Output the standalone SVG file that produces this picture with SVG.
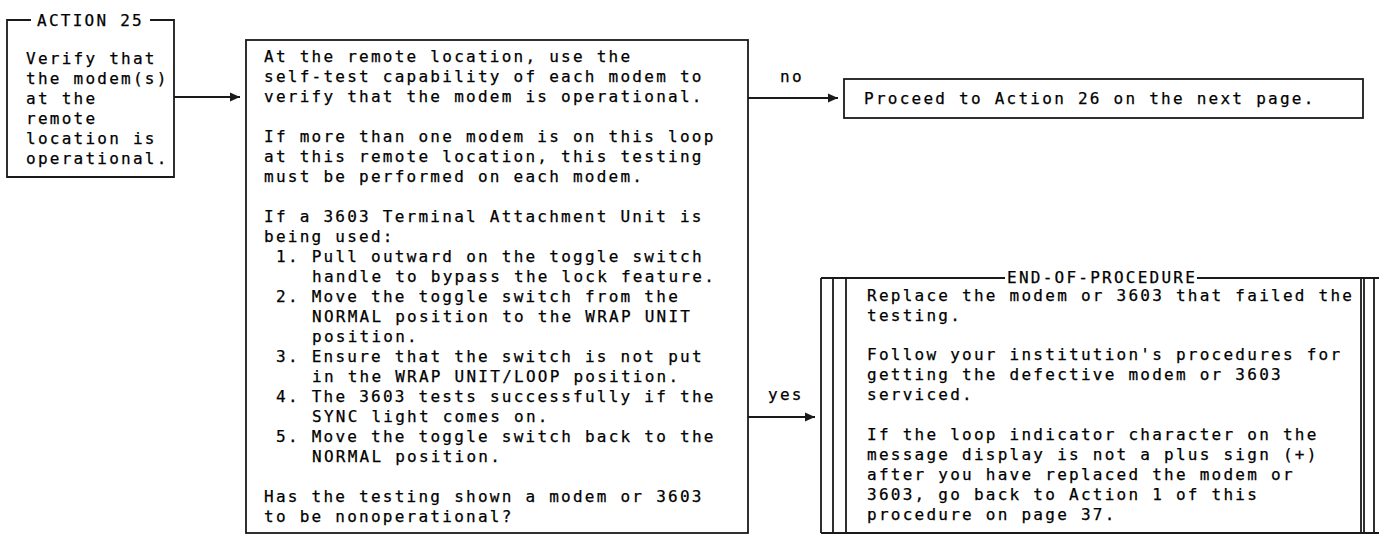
<svg xmlns="http://www.w3.org/2000/svg" width="1379" height="535" viewBox="0 0 1379 535">
<style>
.t{font-family:"DejaVu Sans Mono","Liberation Mono",monospace;font-size:16px;letter-spacing:2.25px;fill:#000;stroke:#000;stroke-width:0.25}
.b{fill:none;stroke:#1a1a1a;stroke-width:1.8}
.c{fill:none;stroke:#1a1a1a;stroke-width:1.8}
</style>
<defs>
<marker id="ah" markerWidth="10" markerHeight="10" refX="10" refY="5" orient="auto" markerUnits="userSpaceOnUse"><path d="M0,0.5 L10,5 L0,9.5 z" fill="#1a1a1a"/></marker>
</defs>
<rect width="1379" height="535" fill="#fff"/>

<g id="action25">
<path class="b" d="M31,20 H7 V177 H174 V20 H150"/>
<text class="t" x="37" y="26">ACTION 25</text>
<text class="t" x="26" y="64">Verify that</text>
<text class="t" x="26" y="84">the modem(s)</text>
<text class="t" x="26" y="104">at the</text>
<text class="t" x="26" y="124">remote</text>
<text class="t" x="26" y="144">location is</text>
<text class="t" x="26" y="164">operational.</text>
</g>

<g id="check">
<rect class="b" x="246" y="40" width="502" height="493"/>
<text class="t" x="264" y="62">At the remote location, use the</text>
<text class="t" x="264" y="82">self-test capability of each modem to</text>
<text class="t" x="264" y="102">verify that the modem is operational.</text>
<text class="t" x="264" y="142">If more than one modem is on this loop</text>
<text class="t" x="264" y="162">at this remote location, this testing</text>
<text class="t" x="264" y="182">must be performed on each modem.</text>
<text class="t" x="264" y="222">If a 3603 Terminal Attachment Unit is</text>
<text class="t" x="264" y="242">being used:</text>
<text class="t" x="276" y="262">1. Pull outward on the toggle switch</text>
<text class="t" x="312" y="282">handle to bypass the lock feature.</text>
<text class="t" x="276" y="302">2. Move the toggle switch from the</text>
<text class="t" x="312" y="322">NORMAL position to the WRAP UNIT</text>
<text class="t" x="312" y="342">position.</text>
<text class="t" x="276" y="362">3. Ensure that the switch is not put</text>
<text class="t" x="312" y="382">in the WRAP UNIT/LOOP position.</text>
<text class="t" x="276" y="402">4. The 3603 tests successfully if the</text>
<text class="t" x="312" y="422">SYNC light comes on.</text>
<text class="t" x="276" y="442">5. Move the toggle switch back to the</text>
<text class="t" x="312" y="462">NORMAL position.</text>
<text class="t" x="264" y="502">Has the testing shown a modem or 3603</text>
<text class="t" x="264" y="522">to be nonoperational?</text>
</g>

<g id="proceed">
<rect class="b" x="844" y="79" width="519" height="39"/>
<text class="t" x="864" y="104">Proceed to Action 26 on the next page.</text>
</g>

<g id="endproc">
<path class="b" d="M821,278 H1005 M1197,278 H1379 M821,278 V533 M833,278 V533 M846,278 V533 M1361,278 V533 M1374,278 V533 M821,533 H1379"/>
<path class="b" d="M1364,278 V533" stroke-width="1"/>
<text class="t" x="1007" y="283">END-OF-PROCEDURE</text>
<text class="t" x="867" y="301">Replace the modem or 3603 that failed the</text>
<text class="t" x="867" y="321">testing.</text>
<text class="t" x="867" y="360">Follow your institution's procedures for</text>
<text class="t" x="867" y="380">getting the defective modem or 3603</text>
<text class="t" x="867" y="400">serviced.</text>
<text class="t" x="867" y="440">If the loop indicator character on the</text>
<text class="t" x="867" y="460">message display is not a plus sign (+)</text>
<text class="t" x="867" y="480">after you have replaced the modem or</text>
<text class="t" x="867" y="500">3603, go back to Action 1 of this</text>
<text class="t" x="867" y="520">procedure on page 37.</text>
</g>

<g id="connectors">
<line class="c" x1="174" y1="97" x2="240" y2="97" marker-end="url(#ah)"/>
<line class="c" x1="748" y1="98" x2="838" y2="98" marker-end="url(#ah)"/>
<line class="c" x1="748" y1="417" x2="815" y2="417" marker-end="url(#ah)"/>
<text class="t" x="780" y="82">no</text>
<text class="t" x="768" y="400">yes</text>
</g>
</svg>
